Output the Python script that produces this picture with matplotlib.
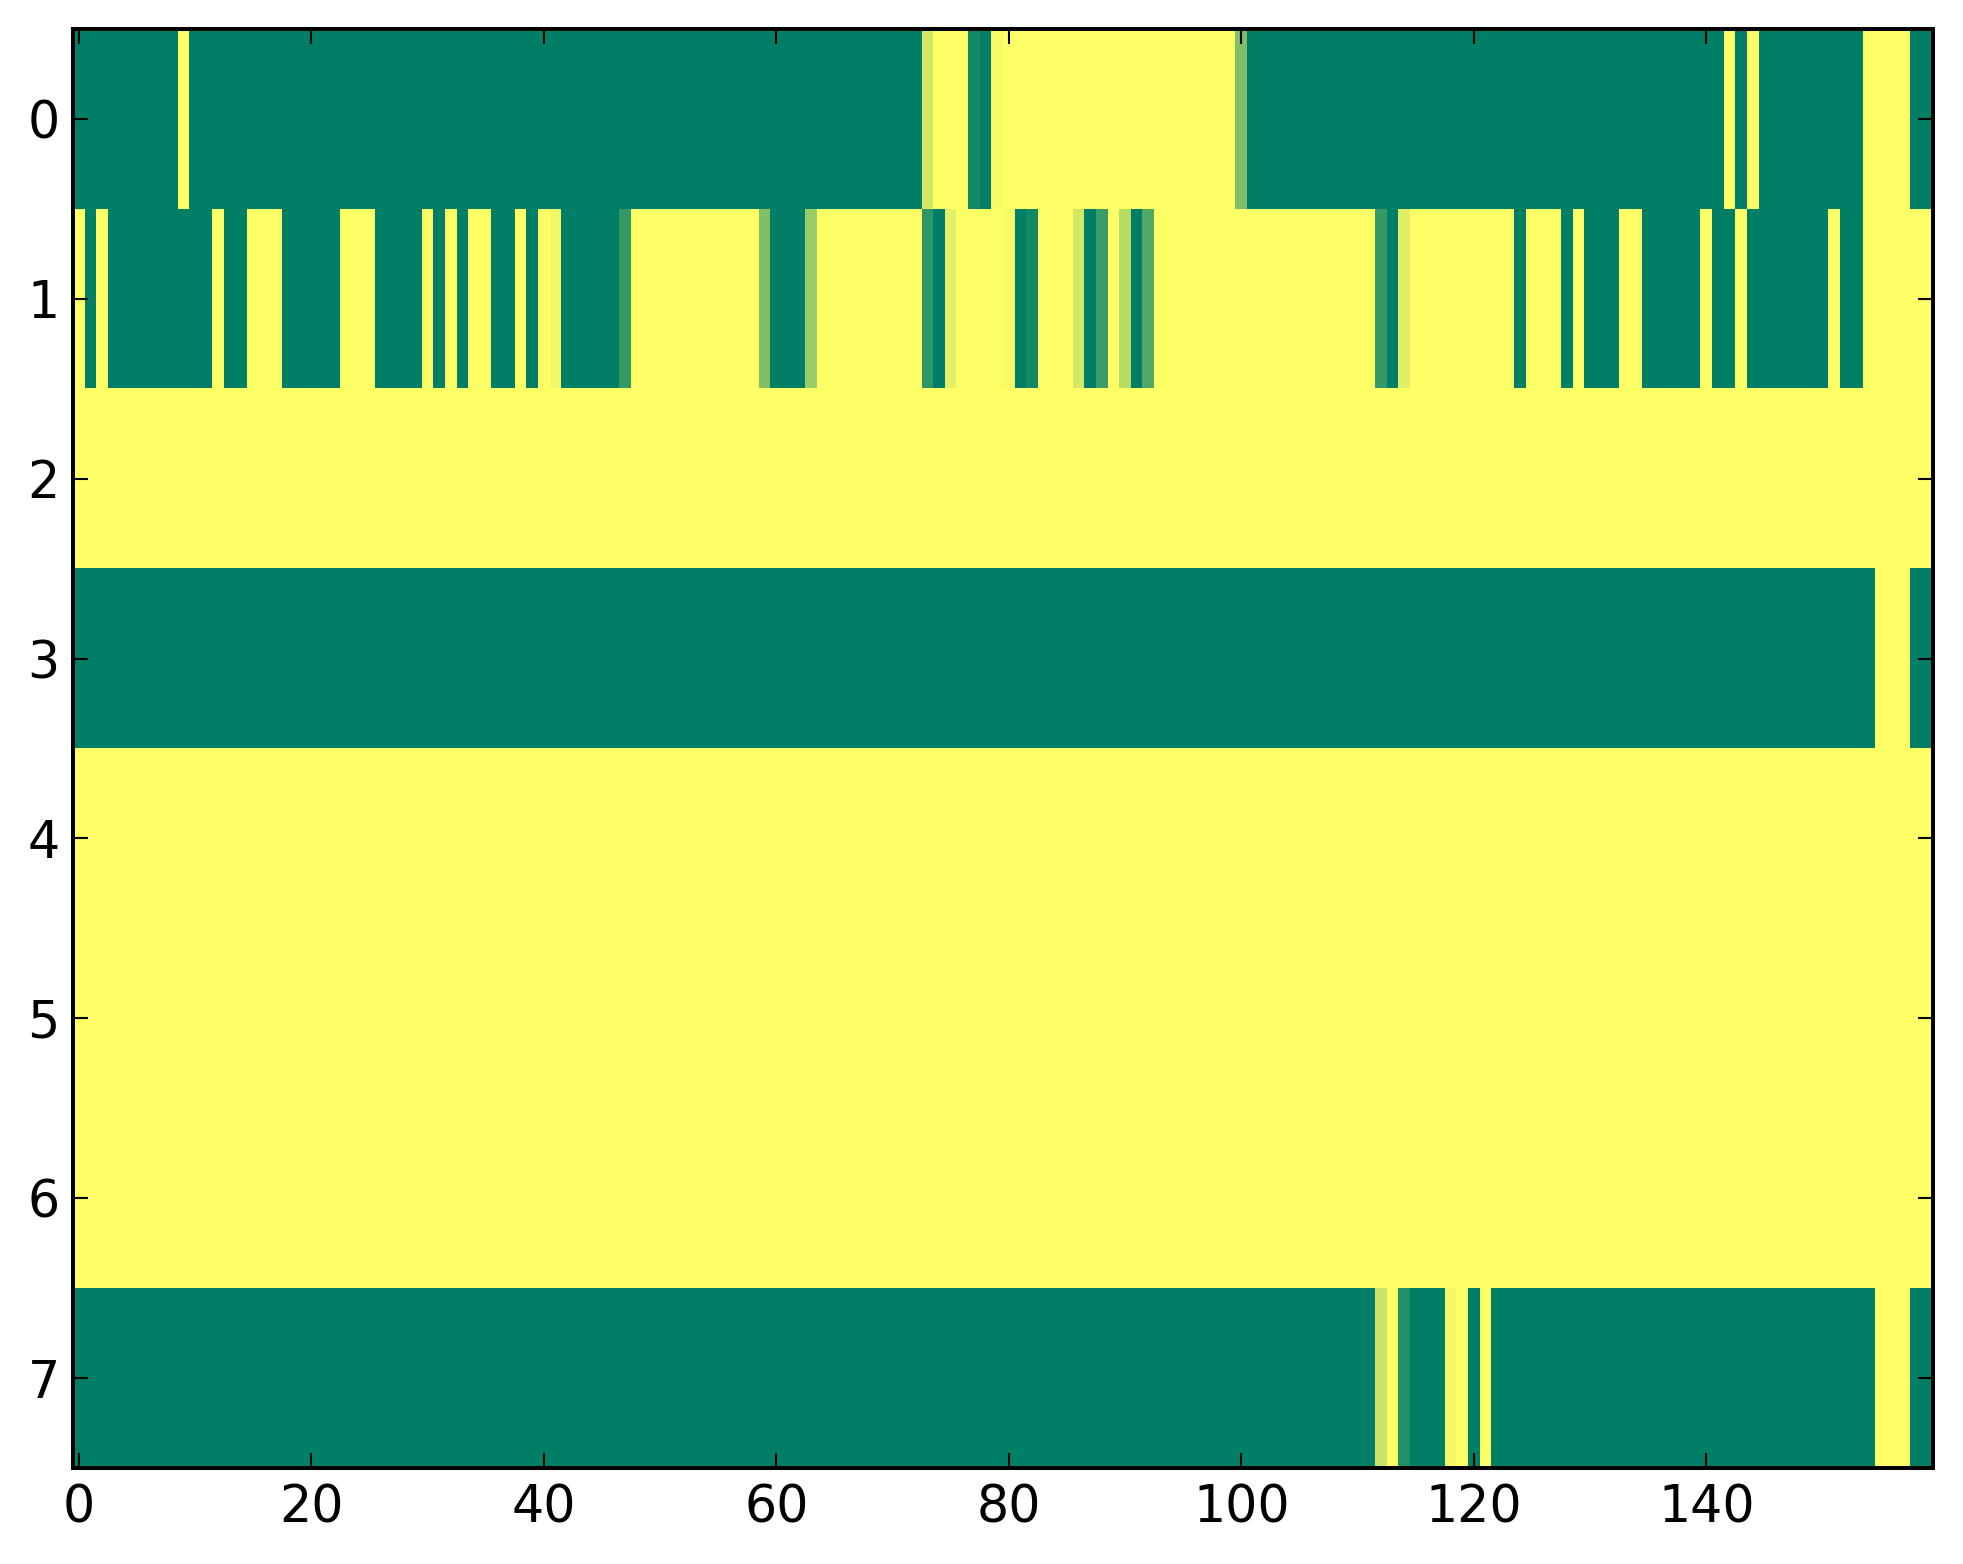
import numpy as np
import matplotlib
matplotlib.use("Agg")
import matplotlib.pyplot as plt

# Run-length encoded rows: (value, number of consecutive columns)
row0_runs = [(0, 9), (1, 1), (0, 63), (0.83, 1), (1, 3), (0.07, 1), (0, 1), (0.97, 1),
             (1, 20), (0.5, 1), (0, 41), (1, 1), (0, 1), (1, 1), (0, 9), (1, 4), (0, 2)]
row1_runs = [(1, 1), (0, 1), (1, 1), (0, 9), (1, 1), (0, 2), (1, 3), (0, 5), (1, 3), (0, 4),
             (1, 1), (0, 1), (1, 1), (0, 1), (1, 2), (0, 2), (1, 1), (0, 1), (1, 1), (0.95, 1),
             (0, 5), (0.2, 1), (1, 11), (0.5, 1), (0, 3), (0.6, 1), (1, 9), (0.18, 1), (0, 1),
             (0.88, 1), (1, 4), (0.97, 1), (0, 1), (0.07, 1), (1, 3), (0.83, 1), (0, 1),
             (0.23, 1), (1, 1), (0.72, 1), (0, 1), (0.32, 1), (1, 19), (0.2, 1), (0, 1),
             (0.87, 1), (1, 9), (0, 1), (1, 3), (0, 1), (1, 1), (0, 3), (1, 2), (0, 5), (1, 1),
             (0, 2), (1, 1), (0, 7), (1, 1), (0, 2), (1, 6)]
row2_runs = [(1, 160)]
row3_runs = [(0, 155), (1, 3), (0, 2)]
row4_runs = [(1, 160)]
row5_runs = [(1, 160)]
row6_runs = [(1, 160)]
row7_runs = [(0, 112), (0.8, 1), (1, 1), (0.14, 1), (0, 3), (0.95, 1), (1, 1), (0, 1),
             (1, 1), (0, 33), (1, 3), (0, 2)]

all_runs = [row0_runs, row1_runs, row2_runs, row3_runs,
            row4_runs, row5_runs, row6_runs, row7_runs]

x_ticks = [0, 20, 40, 60, 80, 100, 120, 140]
y_ticks = [0, 1, 2, 3, 4, 5, 6, 7]


def expand(runs):
    vals = []
    for v, n in runs:
        vals.extend([v] * n)
    return vals


data = np.array([expand(r) for r in all_runs], dtype=float)

plt.rcParams['font.family'] = ['DejaVu Sans']
plt.rcParams['font.size'] = 14.6

fig = plt.figure(figsize=(1963 / 250, 1564 / 250), dpi=250)
ax = fig.add_axes([73 / 1963, 1 - 1468 / 1564, (1933 - 73) / 1963, (1468 - 29) / 1564])
ax.imshow(data, cmap='summer', aspect='auto', interpolation='nearest', vmin=0, vmax=1)

ax.set_xticks(x_ticks)
ax.set_yticks(y_ticks)
ax.tick_params(direction='in', top=True, right=True, length=4.3, width=0.6,
               labelsize=14.6, colors='black')
ax.tick_params(axis='x', pad=4.5)
ax.tick_params(axis='y', pad=3.8)
for sp in ax.spines.values():
    sp.set_linewidth(1.15)
    sp.set_color('black')

fig.savefig('out.png', dpi=250)
